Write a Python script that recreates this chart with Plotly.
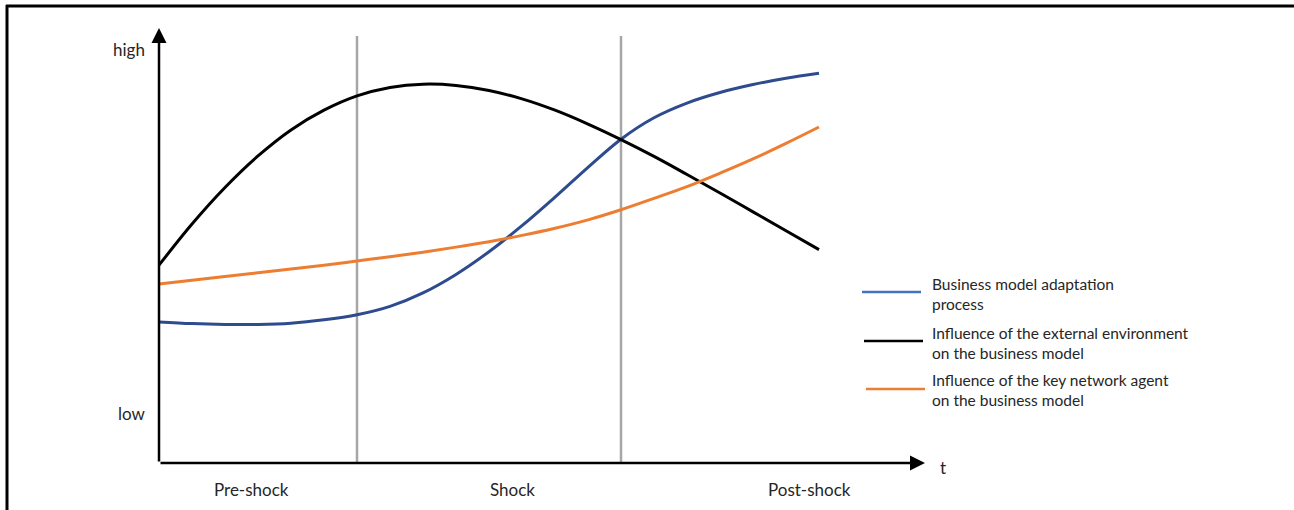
import plotly.graph_objects as go

# ---- data (arbitrary units) ----
t_values = [0, 0.5, 1, 1.5, 2, 2.5, 3, 3.5, 4, 4.5, 5, 5.5, 6, 6.5, 7, 7.5, 8, 8.5, 9, 9.5, 10]
adaptation = [3.36, 3.32, 3.30, 3.30, 3.33, 3.41, 3.53, 3.73, 4.05, 4.49, 5.03, 5.65, 6.33, 7.04, 7.71,
              8.22, 8.57, 8.82, 9.01, 9.16, 9.28]
external = [4.71, 5.69, 6.56, 7.31, 7.93, 8.40, 8.74, 8.94, 9.02, 8.99, 8.87, 8.67, 8.40, 8.07, 7.70,
            7.30, 6.87, 6.43, 5.98, 5.53, 5.08]
network = [4.26, 4.35, 4.44, 4.53, 4.62, 4.71, 4.81, 4.91, 5.02, 5.14, 5.27, 5.42, 5.59, 5.79, 6.03,
           6.30, 6.58, 6.90, 7.24, 7.61, 8.00]
phase_bounds = [3, 7]
phase_labels = ["Pre-shock", "Shock", "Post-shock"]
phase_centers = [1.4, 5.35, 9.85]
series_names = ["Business model adaptation<br>process",
                "Influence of the external environment<br>on the business model",
                "Influence of the key network agent<br>on the business model"]

# ---- styling / layout ----
W, H = 1294, 510
X0PX, XSCALE = 159, 66.0    # pixel of t=0, pixels per unit
Y0PX, YSCALE = 463, 42.0    # pixel of y=0, pixels per unit
x_range = [-X0PX / XSCALE, (W - X0PX) / XSCALE]
y_range = [(Y0PX - H) / YSCALE, Y0PX / YSCALE]

def px(p):  # pixel -> paper x
    return p / W

def py(p):  # pixel -> paper y
    return 1 - p / H

BLUE_CURVE = "#2D4B8E"
BLUE_LEG = "#4472C4"
ORANGE = "#ED7D31"
BLACK = "#000000"
GREY = "#A6A6A6"
TXT = "#262626"
FONT = "Lato, 'Open Sans', sans-serif"

fig = go.Figure()

for name, ys, col in [(series_names[0], adaptation, BLUE_CURVE),
                      (series_names[1], external, BLACK),
                      (series_names[2], network, ORANGE)]:
    fig.add_trace(go.Scatter(x=t_values, y=ys, mode="lines", name=name,
                             line=dict(color=col, width=3, shape="spline", smoothing=1.0),
                             showlegend=False, hoverinfo="skip"))

shapes = []
# phase boundaries
for b in phase_bounds:
    shapes.append(dict(type="line", xref="x", yref="y", x0=b, x1=b, y0=0, y1=(Y0PX - 36) / YSCALE,
                       line=dict(color=GREY, width=2.5), layer="below"))
# frame (top and left)
shapes.append(dict(type="line", xref="paper", yref="paper", x0=px(6), x1=1, y0=py(6), y1=py(6),
                   line=dict(color="black", width=3)))
shapes.append(dict(type="line", xref="paper", yref="paper", x0=px(7), x1=px(7), y0=py(5), y1=0,
                   line=dict(color="black", width=3)))
# legend samples
leg_cols = [BLUE_LEG, BLACK, ORANGE]
leg_y = [292, 341, 389]
leg_x = [862, 864, 866]
for c, yy, xx in zip(leg_cols, leg_y, leg_x):
    shapes.append(dict(type="line", xref="paper", yref="paper", x0=px(xx), x1=px(xx + 59),
                       y0=py(yy), y1=py(yy), line=dict(color=c, width=2.5)))

annotations = []
# axes with arrows
annotations.append(dict(x=0, y=(Y0PX - 28) / YSCALE, ax=0, ay=0, xref="x", yref="y", axref="x", ayref="y",
                        showarrow=True, arrowhead=2, arrowsize=1.2, arrowwidth=2.5, arrowcolor="black", text=""))
annotations.append(dict(x=(925 - X0PX) / XSCALE, y=0, ax=0, ay=0, xref="x", yref="y", axref="x", ayref="y",
                        showarrow=True, arrowhead=2, arrowsize=1.2, arrowwidth=2.5, arrowcolor="black", text=""))
# axis words
for txt, xx, yy in [("high", 129, 50), ("low", 132, 413), ("t", 943, 467)]:
    annotations.append(dict(x=px(xx), y=py(yy), xref="paper", yref="paper", text=txt, showarrow=False,
                            font=dict(family=FONT, size=17, color=TXT), xanchor="center", yanchor="middle"))
# phase labels
for lab, c in zip(phase_labels, phase_centers):
    annotations.append(dict(x=c, y=py(489), xref="x", yref="paper", text=lab, showarrow=False,
                            font=dict(family=FONT, size=17, color=TXT), xanchor="center", yanchor="middle"))
# legend texts
leg_text_y = [294, 343, 390]
for name, yy in zip(series_names, leg_text_y):
    annotations.append(dict(x=px(930), y=py(yy), xref="paper", yref="paper", text=name, showarrow=False,
                            align="left", xanchor="left", yanchor="middle",
                            font=dict(family=FONT, size=15.5, color=TXT)))

fig.update_layout(
    width=W, height=H, autosize=False,
    margin=dict(l=0, r=0, t=0, b=0, pad=0),
    paper_bgcolor="white", plot_bgcolor="white",
    xaxis=dict(range=x_range, visible=False, fixedrange=True),
    yaxis=dict(range=y_range, visible=False, fixedrange=True),
    shapes=shapes, annotations=annotations, showlegend=False,
)

fig.write_html("out.html", config={"displayModeBar": False},
               post_script="document.body.style.margin='0';document.body.style.overflow='hidden';")
